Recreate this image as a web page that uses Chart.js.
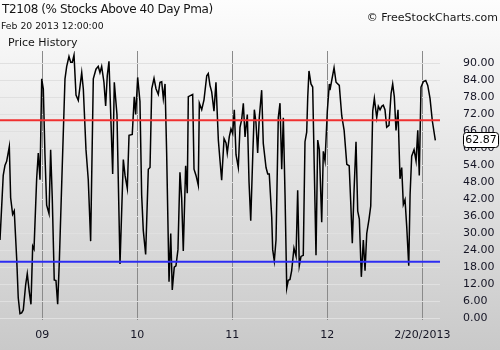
<!DOCTYPE html>
<html>
<head>
<meta charset="utf-8">
<script src="https://cdn.jsdelivr.net/npm/chart.js@4.4.1/dist/chart.umd.min.js"></script>
<style>
  html, body { margin: 0; padding: 0; }
  body {
    width: 500px; height: 350px; overflow: hidden; position: relative;
    background: linear-gradient(#fdfdfd, #c9c9c9);
    font-family: "DejaVu Sans", sans-serif; color: #151515;
  }
  #wrap { position: absolute; left: 0; top: 0; width: 500px; height: 350px; }
  .lbl { position: absolute; white-space: nowrap; }
  #title { left: 2px; top: 2px; font-size: 12px; letter-spacing: -0.4px; }
  #stamp { left: 1px; top: 20px; font-size: 9.3px; }
  #copy { right: 2px; top: 11px; font-size: 11px; }
  #panel { left: 8px; top: 36px; font-size: 11px; }
</style>
</head>
<body>
<div id="wrap"><canvas id="chart" width="500" height="350"></canvas></div>
<div class="lbl" id="title">T2108 (% Stocks Above 40 Day Pma)</div>
<div class="lbl" id="stamp">Feb 20 2013 12:00:00</div>
<div class="lbl" id="copy">© FreeStockCharts.com</div>
<div class="lbl" id="panel">Price History</div>
<script>
// T2108 readings, x as decimal year
const dates = [
  2008.555, 2008.589, 2008.607, 2008.625, 2008.653, 2008.667, 2008.688, 2008.705, 2008.731, 2008.747,
  2008.765, 2008.783, 2008.800, 2008.825, 2008.842, 2008.863, 2008.881, 2008.899, 2008.913, 2008.941,
  2008.958, 2008.976, 2008.994, 2009.011, 2009.028, 2009.046, 2009.071, 2009.088, 2009.105, 2009.126,
  2009.144, 2009.162, 2009.179, 2009.204, 2009.239, 2009.257, 2009.281, 2009.299, 2009.316, 2009.334,
  2009.355, 2009.379, 2009.415, 2009.432, 2009.460, 2009.484, 2009.509, 2009.537, 2009.565, 2009.589,
  2009.607, 2009.625, 2009.649, 2009.667, 2009.684, 2009.702, 2009.741, 2009.758, 2009.786, 2009.818,
  2009.853, 2009.871, 2009.895, 2009.913, 2009.947, 2009.968, 2009.983, 2010.004, 2010.028, 2010.046,
  2010.063, 2010.088, 2010.116, 2010.134, 2010.152, 2010.176, 2010.197, 2010.221, 2010.239, 2010.257,
  2010.274, 2010.292, 2010.309, 2010.334, 2010.352, 2010.368, 2010.389, 2010.407, 2010.428, 2010.449,
  2010.467, 2010.484, 2010.509, 2010.526, 2010.537, 2010.583, 2010.597, 2010.618, 2010.642, 2010.653,
  2010.678, 2010.702, 2010.731, 2010.747, 2010.765, 2010.783, 2010.807, 2010.828, 2010.853, 2010.871,
  2010.888, 2010.913, 2010.934, 2010.947, 2010.968, 2010.986, 2011.004, 2011.021, 2011.039, 2011.063,
  2011.081, 2011.099, 2011.116, 2011.134, 2011.158, 2011.176, 2011.194, 2011.215, 2011.232, 2011.249,
  2011.267, 2011.284, 2011.309, 2011.326, 2011.355, 2011.373, 2011.389, 2011.415, 2011.425, 2011.442,
  2011.460, 2011.484, 2011.502, 2011.520, 2011.537, 2011.555, 2011.573, 2011.589, 2011.607, 2011.625,
  2011.649, 2011.671, 2011.688, 2011.705, 2011.723, 2011.747, 2011.765, 2011.783, 2011.794, 2011.807,
  2011.828, 2011.846, 2011.863, 2011.881, 2011.899, 2011.916, 2011.941, 2011.958, 2011.976, 2012.000,
  2012.021, 2012.028, 2012.046, 2012.071, 2012.092, 2012.126, 2012.152, 2012.177, 2012.205, 2012.230,
  2012.246, 2012.263, 2012.281, 2012.302, 2012.320, 2012.337, 2012.358, 2012.379, 2012.397, 2012.415,
  2012.439, 2012.457, 2012.478, 2012.495, 2012.520, 2012.537, 2012.555, 2012.573, 2012.589, 2012.607,
  2012.625, 2012.649, 2012.671, 2012.688, 2012.705, 2012.723, 2012.744, 2012.765, 2012.783, 2012.800,
  2012.818, 2012.836, 2012.857, 2012.871, 2012.888, 2012.913, 2012.934, 2012.952, 2012.968, 2012.986,
  2013.011, 2013.036, 2013.057, 2013.081, 2013.105, 2013.137
];
const values = [
  27.7, 50.5, 54.0, 55.5, 60.7, 42.6, 36.8, 38.0, 20.9, 7.3,
  1.7, 2.0, 3.0, 11.9, 15.8, 9.5, 5.0, 25.5, 24.5, 49.4,
  58.4, 49.0, 84.6, 81.0, 58.0, 40.0, 37.0, 59.6, 42.6, 13.6,
  13.4, 5.0, 19.8, 47.0, 84.6, 89.0, 92.5, 90.5, 90.5, 93.0,
  78.9, 77.0, 86.8, 81.0, 59.6, 49.0, 27.3, 84.6, 88.0, 89.0,
  86.8, 89.0, 83.4, 75.0, 85.7, 90.8, 51.0, 83.4, 72.0, 19.2,
  56.1, 50.5, 45.9, 64.7, 65.0, 78.3, 72.0, 85.1, 76.6, 43.6,
  31.1, 22.6, 52.7, 53.3, 81.1, 84.8, 81.1, 79.1, 83.4, 83.6,
  77.7, 82.8, 58.4, 13.0, 30.0, 10.1, 18.1, 18.6, 24.3, 51.6,
  42.5, 23.8, 53.9, 44.2, 78.3, 79.1, 52.7, 50.5, 47.0, 76.0,
  73.7, 77.2, 85.7, 86.5, 82.3, 80.0, 73.2, 83.4, 63.0, 55.6,
  48.8, 63.5, 62.0, 58.4, 64.1, 66.9, 65.3, 73.7, 57.8, 53.3,
  67.5, 70.3, 76.0, 64.1, 72.0, 48.2, 34.5, 57.3, 73.7, 69.2,
  58.4, 70.9, 80.6, 61.8, 53.3, 51.0, 51.0, 35.7, 24.3, 20.3,
  27.7, 70.9, 76.0, 52.7, 70.9, 43.6, 10.7, 13.5, 13.8, 16.9,
  24.9, 22.0, 45.3, 18.6, 21.9, 22.3, 62.4, 65.8, 78.3, 87.4,
  82.8, 81.7, 52.7, 22.3, 63.0, 59.6, 34.0, 59.0, 55.6, 73.2,
  82.8, 80.6, 84.0, 88.5, 83.4, 82.3, 71.5, 66.4, 54.4, 53.9,
  41.4, 26.6, 44.8, 62.4, 37.9, 35.1, 14.7, 27.7, 16.9, 30.0,
  35.1, 39.7, 73.2, 77.7, 70.9, 74.9, 73.7, 74.9, 75.3, 73.7,
  67.5, 68.2, 79.4, 82.8, 78.3, 66.4, 73.7, 49.3, 53.3, 40.2,
  41.9, 32.3, 18.6, 43.6, 57.3, 59.6, 55.6, 66.4, 50.5, 81.7,
  83.6, 84.0, 82.3, 77.7, 69.8, 62.87
];

const overboughtLevel = 70;
const oversoldLevel = 20;
const yTicks = [0, 6, 12, 18, 24, 30, 36, 42, 48, 54, 60, 66, 72, 78, 84, 90];
const xTicks = [2009, 2010, 2011, 2012, 2013];
const xTickLabels = ['09', '10', '11', '12', '2/20/2013'];
const xStart = 2008.555;
const xEnd = 2013.186;

const FONT = 'DejaVu Sans';

// boxed last value on the right axis
const lastValueTag = {
    id: 'lastValueTag',
    afterDraw(chart) {
        const v = values[values.length - 1];
        const y = chart.scales.y.getPixelForValue(v);
        const ctx = chart.ctx;
        ctx.save();
        ctx.beginPath();
        ctx.roundRect(463.5, Math.round(y) - 7.5, 35, 15, 3);
        ctx.fillStyle = '#ffffff';
        ctx.fill();
        ctx.strokeStyle = '#000000';
        ctx.lineWidth = 1;
        ctx.stroke();
        ctx.fillStyle = '#000000';
        ctx.font = '11px "' + FONT + '"';
        ctx.textAlign = 'center';
        ctx.textBaseline = 'middle';
        ctx.fillText(v.toFixed(2), 481, Math.round(y) + 0.5);
        ctx.restore();
    }
};

const refLine = (level, color) => ({
    data: [{ x: xStart, y: level }, { x: xEnd, y: level }],
    borderColor: color,
    borderWidth: 2,
    pointRadius: 0,
    order: 1
});

new Chart(document.getElementById('chart'), {
    type: 'line',
    data: {
        datasets: [
            {
                data: dates.map((d, i) => ({ x: d, y: values[i] })),
                borderColor: '#000000',
                borderWidth: 1.5,
                pointRadius: 0,
                tension: 0,
                order: 2
            },
            refLine(overboughtLevel, '#f03030'),
            refLine(oversoldLevel, '#2c2cf2')
        ]
    },
    options: {
        responsive: false,
        animation: false,
        layout: { padding: { top: 51, left: 0, right: 0, bottom: 0 } },
        plugins: {
            legend: { display: false },
            tooltip: { enabled: false }
        },
        scales: {
            x: {
                type: 'linear',
                min: xStart,
                max: xEnd,
                afterBuildTicks: (scale) => { scale.ticks = xTicks.map(v => ({ value: v })); },
                afterFit: (scale) => { scale.height = 20; },
                grid: { color: '#8a8a8a', drawTicks: false },
                border: { display: false },
                ticks: {
                    autoSkip: false,
                    maxRotation: 0,
                    padding: 8,
                    color: '#151525',
                    font: { family: FONT, size: 11 },
                    callback: (v, i) => xTickLabels[i]
                }
            },
            y: {
                position: 'right',
                min: -0.68,
                max: 94.43,
                afterBuildTicks: (scale) => { scale.ticks = yTicks.map(v => ({ value: v })); },
                afterFit: (scale) => { scale.width = 60; },
                grid: { color: '#e0e0e0', drawTicks: false },
                border: { display: false },
                ticks: {
                    padding: 23,
                    color: '#151525',
                    font: { family: FONT, size: 11 },
                    callback: (v) => v.toFixed(2)
                }
            }
        }
    },
    plugins: [lastValueTag]
});
</script>
</body>
</html>
